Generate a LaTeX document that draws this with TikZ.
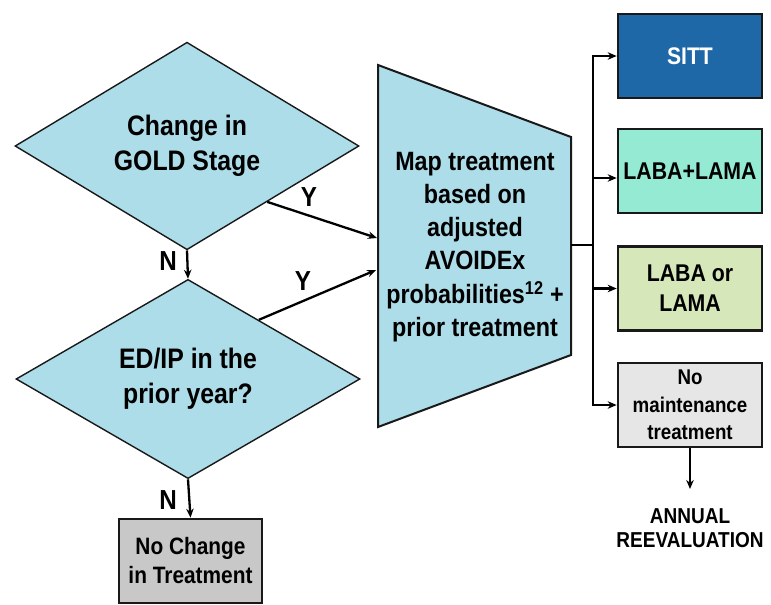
\documentclass[tikz,border=0pt]{standalone}
\usepackage{fontspec}
\setmainfont{Liberation Sans}[FakeStretch=0.88]
\usetikzlibrary{shapes.geometric,arrows.meta,calc}
\definecolor{qblue}{RGB}{173,221,233}
\definecolor{sittblue}{RGB}{31,104,168}
\definecolor{mint}{RGB}{148,234,210}
\definecolor{lgreen}{RGB}{214,232,186}
\definecolor{lgray}{RGB}{230,230,230}
\definecolor{mgray}{RGB}{200,200,200}
\definecolor{edge}{RGB}{25,25,25}
\begin{document}
\begin{tikzpicture}[x=1pt,y=-1pt,
  arr/.style={draw=black,line width=2.3pt,-{Stealth[length=9pt,width=7.5pt]}},
  plain/.style={draw=black,line width=2.3pt},
  diam/.style={shape=diamond,draw=edge,line width=1.4pt,fill=qblue,inner sep=0pt,
    minimum width=344pt,minimum height=196pt,align=center,
    font=\bfseries\fontsize{28.2}{35}\selectfont},
  optbox/.style={shape=rectangle,draw=edge,line width=2.6pt,minimum width=144pt,
    minimum height=84pt,inner sep=0pt,align=center},
  lbl/.style={inner sep=0pt,font=\bfseries\fontsize{27.5}{30}\selectfont}]
\useasboundingbox (0,0) rectangle (771,605);
% decision diamonds
\node[diam] (d1) at (187,146) {Change in\\GOLD Stage};
\node[diam] (d2) at (188,379) {ED/IP in the\\prior year?};
% no change box
\node[optbox,draw=edge,fill=mgray,minimum width=143pt,
  font=\bfseries\fontsize{23.7}{29}\selectfont] (nochg) at (190.5,561) {No Change\\in Treatment};
% trapezoid
\coordinate (ttl) at (378,65);
\coordinate (ttr) at (571,137);
\coordinate (tbr) at (571,355);
\coordinate (tbl) at (378,427);
\draw[draw=edge,line width=2pt,fill=qblue] (ttl) -- (ttr) -- (tbr) -- (tbl) -- cycle;
\node[align=center,inner sep=0pt,font=\bfseries\fontsize{26.5}{33.2}\selectfont] (map) at (475,247)
  {Map treatment\\based on\\adjusted\\AVOIDEx\\probabilities\textsuperscript{12} +\\prior treatment};
\coordinate (in1) at (377,238);
\coordinate (in2) at (376,270);
\coordinate (out) at (571,245);
% options
\node[optbox,fill=sittblue,text=white,font=\bfseries\fontsize{24}{30}\selectfont] (sitt) at (690,56) {SITT};
\node[optbox,fill=mint,font=\bfseries\fontsize{24.2}{30}\selectfont] (dual) at (690,171) {LABA+LAMA};
\node[optbox,fill=lgreen,font=\bfseries\fontsize{24.2}{30}\selectfont] (mono) at (690,288.5) {LABA or\\LAMA};
\node[optbox,fill=lgray,font=\bfseries\fontsize{21.3}{27.5}\selectfont] (nomt) at (690,405) {No\\maintenance\\treatment};
\node[align=center,inner sep=0pt,font=\bfseries\fontsize{21.6}{24.5}\selectfont] (annual) at (690,528) {ANNUAL\\REEVALUATION};
\coordinate (aend) at (690,489);
% connectors
\draw[arr] ($(d1.east)!0.535!(d1.south)$) -- (in1);
\draw[arr] ($(d2.north)!0.41!(d2.east)$) -- (in2);
\draw[arr] (d1.south) -- (d2.north);
\draw[arr] (d2.south) -- (nochg.north);
\coordinate (bus) at (593,245);
\coordinate (bustop) at (593,56);
\coordinate (busbot) at (593,405);
\draw[plain] (out) -- (bus);
\draw[plain,line cap=rect] (bustop) -- (busbot);
\draw[arr] (bustop) -- (sitt.west);
\draw[arr] (593,178) -- ([yshift=-7pt]dual.west);
\draw[arr] (593,288.5) -- (mono.west);
\draw[arr] (busbot) -- (nomt.west);
\draw[arr] (nomt.south) -- (aend);
% labels
\node[lbl] (y1) at (309,197) {Y};
\node[lbl] (y2) at (303,281) {Y};
\node[lbl] (n1) at (168,261) {N};
\node[lbl] (n2) at (168,500) {N};
\end{tikzpicture}
\end{document}
